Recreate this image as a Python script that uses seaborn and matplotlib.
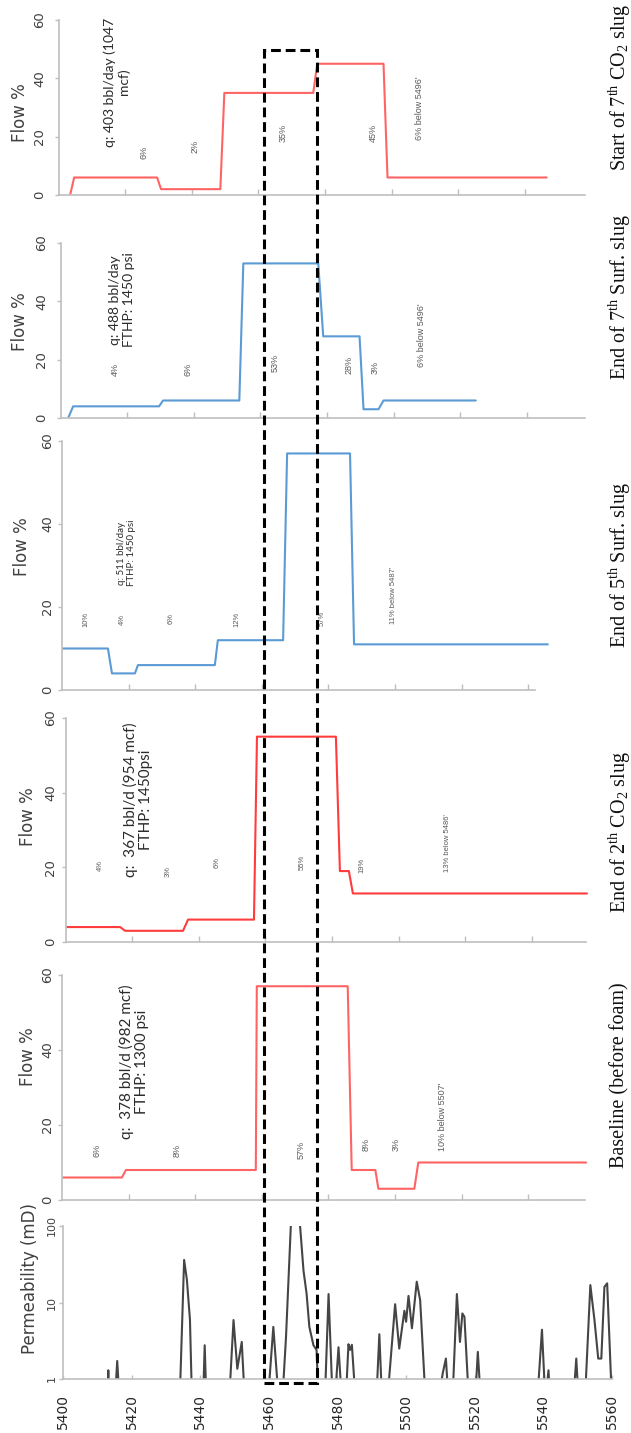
import matplotlib
matplotlib.use("Agg")
import matplotlib.pyplot as plt
import seaborn as sns
from matplotlib.patches import Rectangle
from matplotlib.transforms import blended_transform_factory

sns.set_style("white")
plt.rcParams["font.family"] = ["DejaVu Sans"]
plt.rcParams["mathtext.fontset"] = "custom"
plt.rcParams["mathtext.rm"] = "Liberation Serif"
plt.rcParams["mathtext.it"] = "Liberation Serif:italic"
plt.rcParams["mathtext.bf"] = "Liberation Serif:bold"

# ---------------- data ----------------
# Flow profiles: depth (ft) breakpoints and flow share (%)
co2_7_depth = [5403.5, 5404.7, 5429.6, 5430.8, 5448.6, 5449.8, 5476.5, 5477.7, 5497.6, 5498.8, 5546.6]
co2_7_flow = [0, 6, 6, 2, 2, 35, 35, 45, 45, 6, 6]

surf_7_depth = [5402.3, 5403.8, 5429.6, 5430.8, 5453.7, 5454.9, 5477.4, 5478.9, 5489.8, 5491.0, 5495.5, 5497.0, 5524.7]
surf_7_flow = [0, 4, 4, 6, 6, 53, 53, 28, 28, 3, 3, 6, 6]

surf_5_depth = [5400.3, 5413.8, 5415.0, 5421.9, 5422.8, 5445.9, 5446.8, 5466.4, 5467.6, 5486.5, 5487.7, 5545.9]
surf_5_flow = [10, 10, 4, 4, 6, 6, 12, 12, 57, 57, 11, 11]

co2_2_depth = [5400.0, 5416.4, 5417.9, 5435.3, 5436.8, 5456.6, 5457.5, 5481.2, 5482.4, 5485.1, 5486.3, 5556.6]
co2_2_flow = [4, 4, 3, 3, 6, 6, 55, 55, 19, 19, 13, 13]

base_depth = [5400.3, 5418.0, 5419.2, 5458.2, 5458.5, 5485.8, 5487.0, 5494.1, 5495.0, 5505.8, 5507.0, 5557.4]
base_flow = [6, 6, 8, 8, 57, 57, 8, 8, 3, 3, 10, 10]

# Core permeability log (mD); 0.5 marks readings below the 1 mD floor
perm_depth = [5400.0, 5412.9, 5413.2, 5413.5, 5415.1, 5415.8, 5416.5,
              5434.0, 5435.3, 5436.1, 5437.0, 5437.6,
              5440.8, 5441.3, 5441.8,
              5448.4, 5449.7, 5450.8, 5452.1, 5453.0,
              5459.7, 5461.3, 5462.9,
              5463.9, 5465.0, 5466.4, 5467.7, 5469.1, 5470.1, 5471.0, 5471.8, 5473.0, 5473.9, 5474.5,
              5476.3, 5477.4, 5478.6,
              5479.2, 5480.3, 5481.3,
              5482.4, 5483.2, 5483.7, 5484.2, 5485.3,
              5491.3, 5492.2, 5493.0,
              5494.5, 5496.8, 5498.0, 5499.5, 5500.0, 5500.7, 5501.7, 5503.1, 5504.1, 5505.7,
              5509.3, 5510.7, 5511.6, 5512.4,
              5513.5, 5514.8, 5515.7, 5516.4, 5517.0, 5518.3,
              5520.1, 5520.9, 5521.8,
              5538.2, 5539.6, 5540.6, 5541.5, 5542.0,
              5548.7, 5549.6, 5550.3,
              5552.1, 5553.7, 5554.9, 5556.0, 5556.9, 5557.8, 5558.6, 5560.0]
perm_md = [0.5, 0.5, 1.3, 0.5, 0.5, 1.72, 0.5,
           0.5, 36, 20, 6, 0.5,
           0.5, 2.76, 0.5,
           0.5, 5.9, 1.36, 3.05, 0.5,
           0.5, 4.8, 0.5,
           0.5, 3.55, 100, 300, 100, 26, 13, 4.8, 2.76, 2.4, 0.5,
           0.5, 12.9, 0.5,
           0.5, 2.6, 0.5,
           0.5, 2.85, 2.4, 2.8, 0.5,
           0.5, 3.85, 0.5,
           0.5, 9.5, 2.5, 7.8, 5.6, 12.2, 4.6, 18.7, 10.7, 0.5,
           0.5, 1.2, 1.85, 0.5,
           0.5, 12.9, 3.05, 7.2, 6.5, 0.5,
           0.5, 2.26, 0.5,
           0.5, 4.4, 0.5, 1.3, 0.5,
           0.5, 1.85, 0.5,
           0.5, 16.9, 5.9, 1.85, 1.85, 16.0, 17.8, 0.5]

# Highlighted high-flow interval (ft)
zone_top, zone_bottom = 5458.6, 5474.0

flow_ticks = [0, 20, 40, 60]
depth_ticks = [5400, 5420, 5440, 5460, 5480, 5500, 5520, 5540, 5560]

# ---------------- layout (pixels) ----------------
W, H = 631, 1433
fig = plt.figure(figsize=(W / 100, H / 100), dpi=100)


def px_axes(x0, top, width, bottom):
    return fig.add_axes([x0 / W, 1 - bottom / H, width / W, (bottom - top) / H])


FT_PX = 3.33
GRID = "#bfbfbf"
NOTE_FONT = ["Liberation Sans", "DejaVu Sans"]
INFO_FONT = ["Lato", "Liberation Sans", "DejaVu Sans"]
TITLE_FONT = ["Liberation Serif", "DejaVu Serif"]

panels = [
    dict(depth=co2_7_depth, flow=co2_7_flow, color="#ff6464", x0=58.5, top=20, bottom=195,
         xend=5558, pad=6.0, lab_right=29, lab_center=113,
         title="Start of 7$^{\\mathrm{th}}$ CO$_2$ slug", title_y=87,
         info="q: 403 bbl/day (1047\nmcf)", info_xy=(5417.6, 38.7), info_size=10,
         notes=[("6%", 5425.7, 14.7), ("2%", 5441.0, 16.5), ("35%", 5467.4, 21.3),
                ("45%", 5494.4, 21.3), ("6% below 5496'", 5508.3, 29.8)], note_size=6.5),
    dict(depth=surf_7_depth, flow=surf_7_flow, color="#5b9bd5", x0=60.5, top=243, bottom=418,
         xend=5557.5, pad=6.0, lab_right=29, lab_center=322,
         title="End of 7$^{\\mathrm{th}}$ Surf. slug", title_y=297,
         info="q: 488 bbl/day\nFTHP: 1450 psi", info_xy=(5418.4, 40.5), info_size=10,
         notes=[("4%", 5416.4, 16.5), ("6%", 5438.3, 16.5), ("53%", 5464.4, 18.9),
                ("28%", 5486.6, 18.2), ("3%", 5494.4, 17.5), ("6% below 5496'", 5508.3, 28.5)],
         note_size=6.5),
    dict(depth=surf_5_depth, flow=surf_5_flow, color="#5b9bd5", x0=62, top=441, bottom=690,
         xend=5542, pad=2.5, lab_right=31, lab_center=547,
         title="End of 5$^{\\mathrm{th}}$ Surf. slug", title_y=565,
         info="q: 511 bbl/day\nFTHP: 1450 psi", info_xy=(5419.5, 33.0), info_size=7,
         notes=[("10%", 5407.2, 16.9), ("4%", 5418.0, 16.9), ("6%", 5432.7, 17.3),
                ("12%", 5452.6, 16.9), ("57%", 5478.1, 17.3), ("11% below 5487'", 5499.4, 22.9)],
         note_size=5.5),
    dict(depth=co2_2_depth, flow=co2_2_flow, color="#ff3b3b", x0=65.5, top=718, bottom=942,
         xend=5556.3, pad=3.0, lab_right=37, lab_center=817,
         title="End of 2$^{\\mathrm{th}}$ CO$_2$ slug", title_y=832,
         info="q:  367 bbl/d (954 mcf)\nFTHP: 1450psi", info_xy=(5421.8, 38.0), info_size=11,
         notes=[("4%", 5410.4, 20.6), ("3%", 5430.8, 18.8), ("6%", 5445.5, 21.2),
                ("55%", 5471.0, 21.4), ("19%", 5489.0, 20.6), ("13% below 5486'", 5514.6, 26.5)],
         note_size=5.5),
    dict(depth=base_depth, flow=base_flow, color="#ff6464", x0=62, top=975, bottom=1200,
         xend=5557, pad=2.5, lab_right=37, lab_center=1057,
         title="Baseline (before foam)", title_y=1075,
         info="q:  378 bbl/d (982 mcf)\nFTHP: 1300 psi", info_xy=(5421.6, 36.8), info_size=11,
         notes=[("6%", 5410.5, 13.3), ("8%", 5434.5, 13.3), ("57%", 5471.8, 13.3),
                ("8%", 5491.3, 14.7), ("3%", 5500.3, 14.7), ("10% below 5507'", 5514.4, 22.1)],
         note_size=6.5),
]

flow_width = 160 * FT_PX
for p in panels:
    ax = px_axes(p["x0"], p["top"], flow_width, p["bottom"])
    ax.patch.set_alpha(0)
    sns.lineplot(x=p["depth"], y=p["flow"], ax=ax, color=p["color"], lw=1.5,
                 estimator=None, sort=False, legend=False)
    ax.set_xlim(5400, 5560)
    ax.set_ylim(0, 60)
    ax.set_yticks(flow_ticks)
    ax.set_xticks(depth_ticks[1:-1])
    ax.set_xticklabels([])
    ax.tick_params(axis="x", direction="in", length=4, width=1, color=GRID, bottom=True)
    ax.tick_params(axis="y", direction="out", length=3, width=1, color=GRID, left=True,
                   labelrotation=90, labelsize=9.5, labelcolor="#404040", pad=p["pad"])
    for t in ax.get_yticklabels():
        t.set_va("center")
    for side in ("top", "right"):
        ax.spines[side].set_visible(False)
    for side in ("left", "bottom"):
        ax.spines[side].set_color(GRID)
        ax.spines[side].set_linewidth(1.2)
    ax.spines["bottom"].set_bounds(5400, p["xend"])
    ax.set_xlabel("")
    ax.set_ylabel("Flow %", fontsize=12, color="#404040")
    hpx = p["bottom"] - p["top"]
    ax.yaxis.set_label_coords((p["lab_right"] - p["x0"]) / flow_width,
                              (p["bottom"] - p["lab_center"]) / hpx)

    ax.text(*p["info_xy"], p["info"], rotation=90, ha="center", va="center",
            multialignment="center", fontsize=p["info_size"], color="#2b2b2b",
            family=INFO_FONT, style="normal", linespacing=1.15)
    for txt, d, v in p["notes"]:
        ax.text(d, v, txt, rotation=90, ha="center", va="center", style="normal",
                fontsize=p["note_size"], color="#5a5a5a", family=NOTE_FONT)

    fig.text(620 / W, 1 - p["title_y"] / H, p["title"], rotation=90, ha="center",
             va="center", fontsize=14.5, family=TITLE_FONT, color="#111111")

# ---------------- permeability track ----------------
axp = px_axes(63, 1226, 160 * 3.431, 1379)
axp.patch.set_alpha(0)
sns.lineplot(x=perm_depth, y=perm_md, ax=axp, color="#454545", lw=1.5,
             estimator=None, sort=False, legend=False)
axp.set_yscale("log")
axp.set_ylim(1, 100)
axp.set_xlim(5400, 5560)
axp.set_yticks([1, 10, 100])
axp.set_yticklabels(["1", "10", "100"])
axp.minorticks_off()
axp.set_xticks(depth_ticks)
axp.set_xticklabels([str(d) for d in depth_ticks])
axp.tick_params(axis="x", direction="in", length=3, width=1, color=GRID, bottom=True,
                labelrotation=90, labelsize=10, labelcolor="#262626", pad=10.5)
axp.tick_params(axis="y", direction="out", length=3, width=1, color=GRID, left=True,
                labelrotation=90, labelsize=8, labelcolor="#404040", pad=1.5)
for t in axp.get_yticklabels():
    t.set_va("center")
for side in ("top", "right"):
    axp.spines[side].set_visible(False)
for side in ("left", "bottom"):
    axp.spines[side].set_color(GRID)
    axp.spines[side].set_linewidth(1.2)
axp.set_xlabel("")
axp.set_ylabel("Permeability (mD)", fontsize=12, color="#404040")
axp.yaxis.set_label_coords((39 - 63) / (160 * 3.431), (1379 - 1278) / (1379 - 1226))

# ---------------- highlighted interval box ----------------
trans = blended_transform_factory(axp.transData, fig.transFigure)
box_bottom = 1 - 1383 / H
box_top = 1 - 50 / H
fig.add_artist(Rectangle((zone_top, box_bottom), zone_bottom - zone_top, box_top - box_bottom,
                         transform=trans, fill=False, edgecolor="black", lw=2.2,
                         linestyle=(0, (3.2, 1.6)), zorder=10, clip_on=False))

fig.savefig("out.png", dpi=100)
